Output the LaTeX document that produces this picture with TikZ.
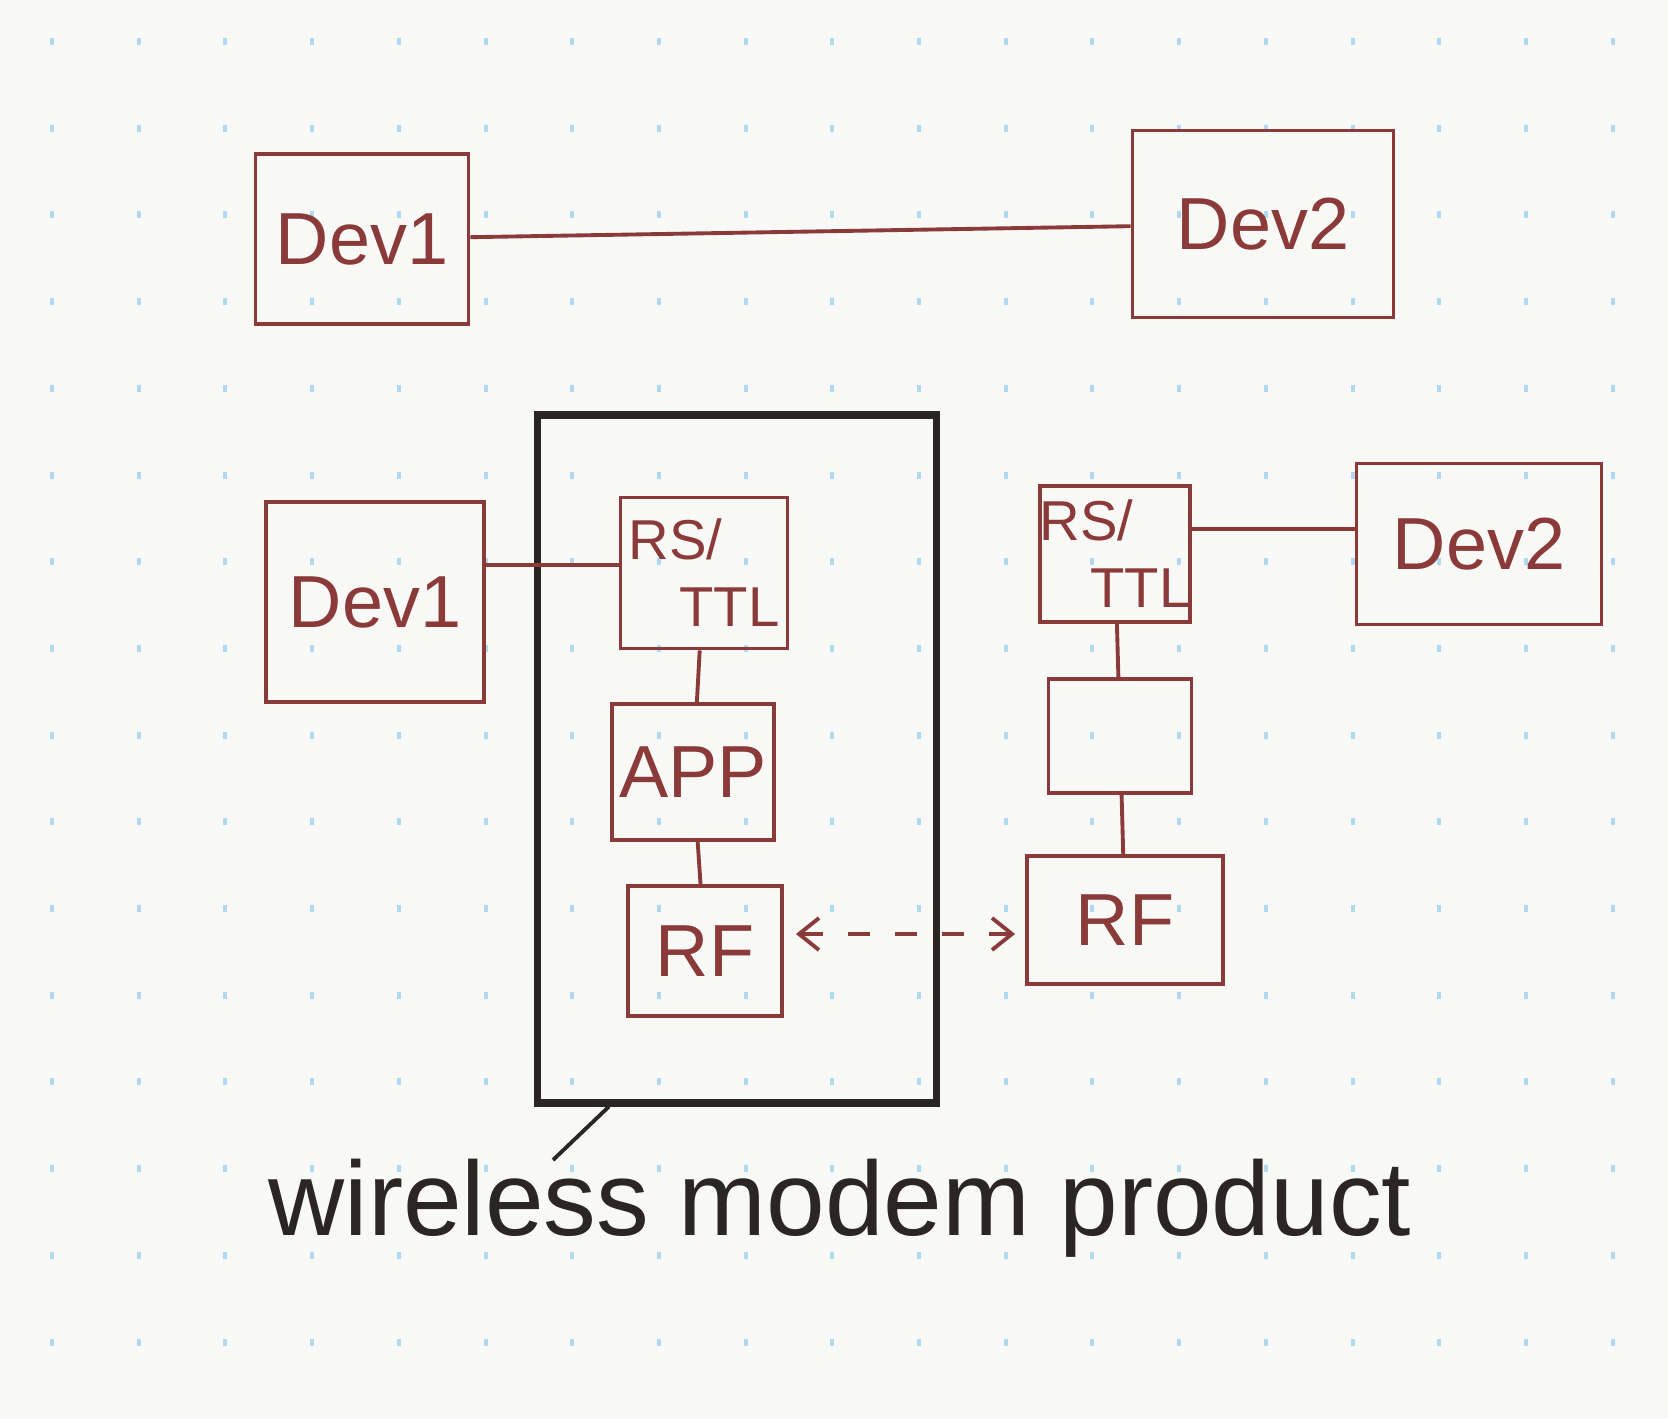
\documentclass[tikz,border=0pt]{standalone}
\usepackage{fontspec}
\setmainfont{Liberation Sans}
\usetikzlibrary{arrows.meta}
\definecolor{ink}{HTML}{8B3A3A}
\definecolor{pen}{HTML}{2B2623}
\definecolor{paper}{HTML}{F8F8F6}
\definecolor{dotblue}{HTML}{B0D8EE}
\begin{document}
\begin{tikzpicture}[
    box/.style={draw=ink,text=ink,line width=1.1pt,rectangle,inner sep=0pt},
    wire/.style={draw=ink,line width=1.1pt},
    radio/.style={draw=ink,line width=1.1pt,dash pattern=on 0.22cm off 0.25cm,
      {Straight Barb[length=2mm,width=3.2mm]}-{Straight Barb[length=2mm,width=3.2mm]},
      shorten <=0.12cm,shorten >=0.1cm},
  ]
  \fill[paper] (0,0) rectangle (16.68,14.19);
  \useasboundingbox (0,0) rectangle (16.68,14.19);
  % dot grid of the paper
  \foreach \i in {0,...,18}
    \foreach \j in {0,...,15}
      \fill[dotblue] ({0.50+0.867*\i},{13.74-0.867*\j}) rectangle ++(0.04,0.07);

  % direct link
  \begin{scope}[every node/.style={box,font=\fontsize{21}{23}\selectfont}]
    \node[minimum width=2.13cm,minimum height=1.70cm,text depth=-0.3cm] (topa) at (3.62,11.80) {Dev1};
    \node[minimum width=2.61cm,minimum height=1.87cm,text depth=-0.2cm] (topb) at (12.63,11.95) {Dev2};
  \end{scope}
  \path (topa) edge[wire] (topb);

  % wireless modem
  \node[draw=pen,line width=2pt,minimum width=3.99cm,minimum height=6.88cm] (modem) at (7.37,6.60) {};
  \begin{scope}[every node/.style={box,font=\fontsize{21}{23}\selectfont}]
    \node[minimum width=2.18cm,minimum height=2.00cm] (deva) at (3.75,8.17) {Dev1};
    \node[minimum width=2.45cm,minimum height=1.61cm] (devb) at (14.79,8.75) {Dev2};
    \node[minimum width=1.62cm,minimum height=1.36cm] (app) at (6.93,6.47) {APP};
    \node[minimum width=1.54cm,minimum height=1.30cm] (rfa) at (7.05,4.68) {RF};
    \node[minimum width=1.96cm,minimum height=1.28cm] (rfb) at (11.25,4.99) {RF};
    \node[minimum width=1.43cm,minimum height=1.14cm] (blank) at (11.20,6.83) {};
  \end{scope}
  \begin{scope}[every node/.style={box,align=left,font=\fontsize{16}{19}\selectfont}]
    \node[minimum width=1.67cm,minimum height=1.51cm] (ttla) at (7.04,8.46) {RS/\\\hspace*{0.9em}TTL};
    \node[minimum width=1.28cm,minimum height=1.36cm] (ttlb) at (11.15,8.65) {RS/\\\hspace*{0.9em}TTL};
  \end{scope}

  \begin{scope}[every edge/.style={wire}]
    \path ([yshift=0.08cm]ttla.west) edge ([yshift=0.08cm]ttla.west -| deva.east);
    \path (ttla) edge (app);
    \path (app) edge (rfa);
    \path ([yshift=0.15cm]devb.west) edge ([yshift=0.15cm]devb.west -| ttlb.east);
    \path (ttlb) edge (blank);
    \path (blank) edge (rfb);
  \end{scope}
  \draw[radio] ([yshift=-0.14cm]rfa.east |- rfb.west) -- ([yshift=-0.14cm]rfb.west);

  % label
  \node[anchor=base,text=pen,font=\fontsize{30}{32}\selectfont] (label) at (8.40,1.84) {wireless modem product};
  \coordinate (ptr) at (5.53,2.59);
  \draw[pen,line width=1.1pt] (ptr) -- ([xshift=0.75cm]modem.south west);
\end{tikzpicture}
\end{document}
